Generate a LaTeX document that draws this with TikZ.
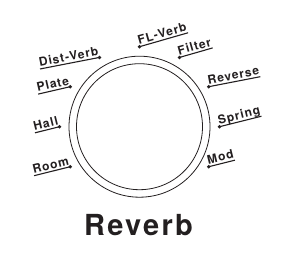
\documentclass[tikz,border=0pt]{standalone}
\usepackage{fontspec}
\setmainfont{TeX Gyre Heros}
\newfontfamily\knobfont[LetterSpace=8]{TeX Gyre Heros}
\usetikzlibrary{calc}
\definecolor{ink}{HTML}{231F20}
\tikzset{
  knobdot/.style={circle,fill=ink,inner sep=0pt,minimum size=3.8pt},
  knoblbl/.style={inner xsep=0pt,inner ysep=2pt,text depth=0pt,text=ink,
    font=\knobfont\bfseries\fontsize{12}{12}\selectfont},
  leftlbl/.style={knoblbl,anchor=south east},
  rightlbl/.style={knoblbl,anchor=south west}
}
\begin{document}
\begin{tikzpicture}[x=1pt,y=1pt]
  \useasboundingbox (0,0) rectangle (291,263);
  \coordinate (c) at (139.5,136.3);
  % knob
  \draw[ink,line width=0.8pt] (c) circle (70.5);
  \draw[ink,line width=0.8pt] (c) circle (63);
  % positions round the knob
  \foreach \ang/\id/\txt/\side/\rot in {210/room/Room/leftlbl/14, 180/hall/Hall/leftlbl/14,
      150/plate/Plate/leftlbl/13, 120/dist/Dist-Verb/leftlbl/11, 90/flv/FL-Verb/rightlbl/16,
      60/filter/Filter/rightlbl/16, 30/rev/Reverse/rightlbl/11, 0/spring/Spring/rightlbl/14,
      -30/mod/Mod/rightlbl/14}{
    \node[knobdot] (\id) at ($(c)+(\ang:80)$) {};
    \node[\side,rotate=\rot] (\id-t) at (\id.center) {\txt};
    \draw[ink,line width=1.1pt] (\id-t.south west) -- (\id-t.south east);
  }
  \node[anchor=base,text=ink,font=\knobfont\bfseries\fontsize{29}{29}\selectfont] (title) at (138.5,28) {Reverb};
\end{tikzpicture}
\end{document}
